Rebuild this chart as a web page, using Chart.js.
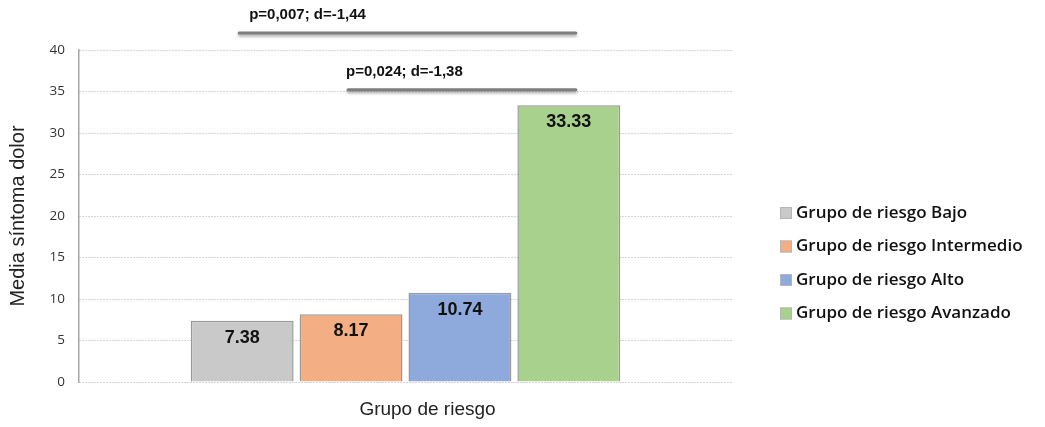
<!DOCTYPE html>
<html>
<head>
<meta charset="utf-8">
<script src="https://cdn.jsdelivr.net/npm/chart.js@4.4.1/dist/chart.umd.min.js"></script>
<style>
  html, body { margin: 0; padding: 0; background: #fff; }
  #wrap { width: 1045px; height: 427px; position: relative; }
</style>
</head>
<body>
<div id="wrap"><canvas id="chart"></canvas></div>
<script>
// Mean pain-symptom score by risk group
const categories = [''];
const groupNames = [
  'Grupo de riesgo Bajo',
  'Grupo de riesgo Intermedio',
  'Grupo de riesgo Alto',
  'Grupo de riesgo Avanzado'
];
const groupMeans = [7.38, 8.17, 10.74, 33.33];
const groupColors = ['#c9c9c9', '#f3af83', '#8eaadc', '#a9d18e'];
const yTicks = [0, 5, 10, 15, 20, 25, 30, 35, 40];

// Significance brackets: from group index, to group index, level on the y scale
const bracketFrom = [0, 1];
const bracketTo = [3, 3];
const bracketLevel = [42.05, 35.2];
const bracketText = ['p=0,007; d=-1,44', 'p=0,024; d=-1,38'];

const datasets = groupNames.map((name, i) => ({
  label: name,
  data: [groupMeans[i]],
  backgroundColor: groupColors[i],
  borderColor: '#999999',
  borderWidth: 1.5,
  barPercentage: 0.945,
  categoryPercentage: 0.667
}));

// Value labels inside the top of each bar
const valueLabels = {
  id: 'valueLabels',
  afterDatasetsDraw(chart) {
    const ctx = chart.ctx;
    ctx.save();
    ctx.font = 'bold 18px "Liberation Sans", Arial, sans-serif';
    ctx.fillStyle = '#111';
    ctx.textAlign = 'center';
    ctx.textBaseline = 'middle';
    chart.data.datasets.forEach((ds, i) => {
      const bar = chart.getDatasetMeta(i).data[0];
      ctx.fillText(ds.data[0].toFixed(2), bar.x, bar.y + 17);
    });
    ctx.restore();
  }
};

// Significance brackets above the bars
const brackets = {
  id: 'brackets',
  afterDraw(chart) {
    const ctx = chart.ctx;
    const y = chart.scales.y;
    ctx.save();
    bracketLevel.forEach((lvl, k) => {
      const x0 = chart.getDatasetMeta(bracketFrom[k]).data[0].x - 3;
      const x1 = chart.getDatasetMeta(bracketTo[k]).data[0].x + 7;
      const py = y.getPixelForValue(lvl);
      ctx.save();
      ctx.shadowColor = 'rgba(0,0,0,0.35)';
      ctx.shadowBlur = 3;
      ctx.shadowOffsetY = 2;
      ctx.strokeStyle = '#7f7f7f';
      ctx.lineWidth = 3;
      ctx.lineCap = 'round';
      ctx.beginPath();
      ctx.moveTo(x0, py);
      ctx.lineTo(x1, py);
      ctx.stroke();
      ctx.restore();
      ctx.font = 'bold 15px "Liberation Sans", Arial, sans-serif';
      ctx.fillStyle = '#111';
      ctx.textAlign = 'left';
      ctx.textBaseline = 'middle';
      ctx.fillText(bracketText[k], x0 + (k === 0 ? 10 : -2), py - 18);
    });
    ctx.restore();
  }
};

// Horizontal axis title and legend on the right
const extras = {
  id: 'extras',
  afterDraw(chart) {
    const ctx = chart.ctx;
    const a = chart.chartArea;
    ctx.save();
    ctx.font = '19px "Liberation Sans", Arial, sans-serif';
    ctx.fillStyle = '#222';
    ctx.textAlign = 'center';
    ctx.textBaseline = 'middle';
    ctx.fillText('Grupo de riesgo', (a.left + a.right) / 2 + 22, a.bottom + 28);

    ctx.font = '600 17px "Open Sans", sans-serif';
    ctx.textAlign = 'left';
    chart.data.datasets.forEach((ds, i) => {
      const cy = 213 + i * 33.5;
      ctx.fillStyle = ds.backgroundColor;
      ctx.fillRect(780, cy - 6, 12, 12);
      ctx.strokeStyle = '#b5b5b5';
      ctx.lineWidth = 1;
      ctx.strokeRect(780.5, cy - 5.5, 11, 11);
      ctx.fillStyle = '#111';
      ctx.fillText(ds.label, 796, cy);
    });
    ctx.restore();
  }
};

new Chart(document.getElementById('chart'), {
  type: 'bar',
  data: { labels: categories, datasets },
  options: {
    responsive: true,
    maintainAspectRatio: false,
    animation: false,
    layout: { padding: { top: 50, right: 313, bottom: 45, left: 0 } },
    plugins: {
      legend: { display: false },
      tooltip: { enabled: false }
    },
    scales: {
      x: { display: false },
      y: {
        min: 0,
        max: 40,
        afterBuildTicks: s => { s.ticks = yTicks.map(v => ({ value: v })); },
        afterFit: s => { s.width = 79; },
        ticks: {
          color: '#333',
          padding: 14,
          font: { family: '"Open Sans", sans-serif', size: 13.5 }
        },
        grid: {
          color: '#a8a8a8',
          lineWidth: 1,
          drawTicks: false
        },
        // dotted gridlines, solid axis line
        border: { color: '#a6a6a6', width: 1.5, dash: [1, 2] },
        title: {
          display: true,
          text: 'Media síntoma dolor',
          color: '#222',
          padding: { top: 6, bottom: 0 },
          font: { family: '"Liberation Sans", Arial, sans-serif', size: 20 }
        }
      }
    }
  },
  plugins: [valueLabels, brackets, extras]
});
</script>
</body>
</html>
